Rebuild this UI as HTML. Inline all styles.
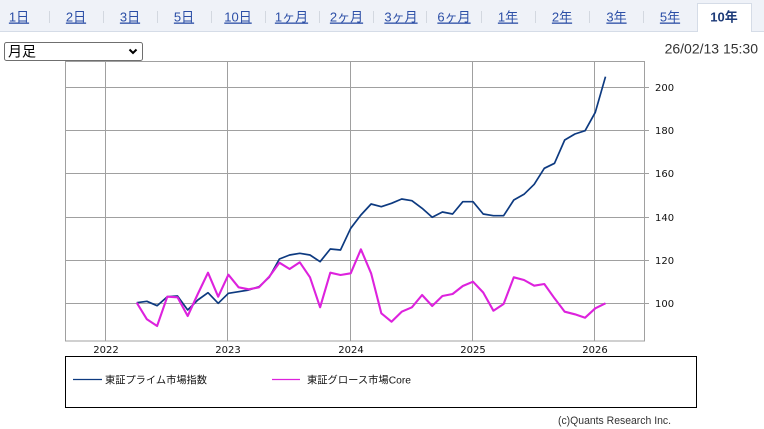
<!DOCTYPE html>
<html><head><meta charset="utf-8"><style>
html,body{margin:0;padding:0;background:#fff;width:764px;height:429px;overflow:hidden}
svg{display:block}
.tab{font-family:"Liberation Sans","Noto Sans CJK JP",sans-serif;font-size:13px;fill:#2b4ea6;text-decoration:underline}
.ax{font-family:"DejaVu Sans",sans-serif;font-size:10px;fill:#111}
.lg{font-family:"Liberation Sans","Noto Sans CJK JP",sans-serif;font-size:10px;fill:#111}
</style></head><body>
<svg width="764" height="429" viewBox="0 0 764 429" xmlns="http://www.w3.org/2000/svg">
<!-- tab bar -->
<rect x="0" y="0" width="764" height="31" fill="#eff2f8"/>
<line x1="0" y1="31.5" x2="764" y2="31.5" stroke="#d5dce7"/>
<g stroke="#d3d8e0" stroke-width="1">
<line x1="49.5" y1="11" x2="49.5" y2="23"/>
<line x1="103.5" y1="11" x2="103.5" y2="23"/>
<line x1="157.5" y1="11" x2="157.5" y2="23"/>
<line x1="211.5" y1="11" x2="211.5" y2="23"/>
<line x1="265.5" y1="11" x2="265.5" y2="23"/>
<line x1="319.5" y1="11" x2="319.5" y2="23"/>
<line x1="373.5" y1="11" x2="373.5" y2="23"/>
<line x1="426.5" y1="11" x2="426.5" y2="23"/>
<line x1="481.5" y1="11" x2="481.5" y2="23"/>
<line x1="535.5" y1="11" x2="535.5" y2="23"/>
<line x1="589.5" y1="11" x2="589.5" y2="23"/>
<line x1="643.5" y1="11" x2="643.5" y2="23"/>
</g>
<path d="M697.5 32 V3.5 H751.5 V32" fill="#fff" stroke="#d5dce7"/>
<rect x="698" y="4" width="53" height="29" fill="#fff"/>
<g text-anchor="middle">
<text class="tab" x="19" y="21.5">1日</text>
<text class="tab" x="76" y="21.5">2日</text>
<text class="tab" x="130" y="21.5">3日</text>
<text class="tab" x="184" y="21.5">5日</text>
<text class="tab" x="238" y="21.5">10日</text>
<text class="tab" x="291.5" y="21.5">1ヶ月</text>
<text class="tab" x="346.5" y="21.5">2ヶ月</text>
<text class="tab" x="401" y="21.5">3ヶ月</text>
<text class="tab" x="454" y="21.5">6ヶ月</text>
<text class="tab" x="508" y="21.5">1年</text>
<text class="tab" x="562" y="21.5">2年</text>
<text class="tab" x="616.5" y="21.5">3年</text>
<text class="tab" x="670" y="21.5">5年</text>
<text x="724" y="21.5" font-family="Liberation Sans,Noto Sans CJK JP,sans-serif" font-size="13" font-weight="bold" fill="#1c3a78">10年</text>
</g>
<!-- select -->
<rect x="4.5" y="42.5" width="138" height="18" rx="2" fill="#fff" stroke="#6f6f6f"/>
<text x="8" y="56.5" font-family="Liberation Sans,Noto Sans CJK JP,sans-serif" font-size="14" fill="#000">月足</text>
<polyline points="129.5,49.5 133,53 136.5,49.5" fill="none" stroke="#000" stroke-width="2"/>
<!-- date -->
<text x="758" y="53.5" text-anchor="end" font-family="Liberation Sans,sans-serif" font-size="14" fill="#333">26/02/13 15:30</text>
<!-- grid -->
<g stroke="#a0a0a0" stroke-width="1" fill="none">
<line x1="65" y1="87.5" x2="649" y2="87.5"/>
<line x1="65" y1="130.5" x2="649" y2="130.5"/>
<line x1="65" y1="173.5" x2="649" y2="173.5"/>
<line x1="65" y1="217.5" x2="649" y2="217.5"/>
<line x1="65" y1="260.5" x2="649" y2="260.5"/>
<line x1="65" y1="303.5" x2="649" y2="303.5"/>
<line x1="105.5" y1="61" x2="105.5" y2="341"/>
<line x1="227.5" y1="61" x2="227.5" y2="341"/>
<line x1="350.5" y1="61" x2="350.5" y2="341"/>
<line x1="472.5" y1="61" x2="472.5" y2="341"/>
<line x1="594.5" y1="61" x2="594.5" y2="341"/>
<rect x="65.5" y="61.5" width="579" height="279.5"/>
</g>
<g class="ax">
<text class="ax" x="655" y="91">200</text>
<text class="ax" x="655" y="134">180</text>
<text class="ax" x="655" y="177">160</text>
<text class="ax" x="655" y="221">140</text>
<text class="ax" x="655" y="264">120</text>
<text class="ax" x="655" y="307">100</text>
</g>
<g text-anchor="middle">
<text class="ax" x="106" y="353">2022</text>
<text class="ax" x="228" y="353">2023</text>
<text class="ax" x="351" y="353">2024</text>
<text class="ax" x="473" y="353">2025</text>
<text class="ax" x="595" y="353">2026</text>
</g>
<!-- series -->
<polyline fill="none" stroke="#0d3a80" stroke-width="1.7" stroke-linejoin="round" points="136.7,302.7 146.9,301.3 157.1,305.7 167.3,296.7 177.5,296 187.7,310 197.8,300 208,292.7 218.2,303.3 228.4,293.3 238.6,291.7 248.8,290 259,286.7 269.2,277.3 279.4,259 289.6,255 299.8,253.3 310,255 320.1,261.7 330.3,249 340.5,250 350.7,228.3 360.9,215 371.1,204 381.3,206.7 391.5,203.3 401.7,199 411.9,200.7 422.1,208.3 432.2,217.3 442.4,212 452.6,214 462.8,201.7 473,201.7 483.2,214 493.4,215.7 503.6,215.7 513.8,200 524,194.3 534.2,184.3 544.3,168.3 554.5,163.3 564.7,140 574.9,134 585.1,130.7 595.3,112.3 605.5,76.7"/>
<polyline fill="none" stroke="#dd22dd" stroke-width="2.1" stroke-linejoin="round" points="136.7,302.7 146.9,319.3 157.1,326 167.3,296.7 177.5,297.3 187.7,316 197.8,294 208,272.7 218.2,296.7 228.4,274.7 238.6,287.3 248.8,289.3 259,287.3 269.2,276.7 279.4,262.7 289.6,269 299.8,262.3 310,277.3 320.1,307.3 330.3,272.7 340.5,275 350.7,273.3 360.9,249.3 371.1,273.3 381.3,313.3 391.5,321.7 401.7,311.7 411.9,307.3 422.1,295 432.2,306 442.4,296 452.6,294 462.8,286 473,281.7 483.2,292.5 493.4,310.7 503.6,304 513.8,277.3 524,280 534.2,285.7 544.3,284 554.5,298.3 564.7,311.7 574.9,314.3 585.1,317.7 595.3,308.3 605.5,303.3"/>
<!-- legend -->
<rect x="65.5" y="356.5" width="631" height="51" fill="none" stroke="#000" stroke-width="1"/>
<line x1="73" y1="379.5" x2="102" y2="379.5" stroke="#0d3a80" stroke-width="1.3"/>
<text class="lg" x="105" y="383.5" textLength="102" lengthAdjust="spacingAndGlyphs">東証プライム市場指数</text>
<line x1="272" y1="379.5" x2="300" y2="379.5" stroke="#dd22dd" stroke-width="1.3"/>
<text class="lg" x="307" y="383.5" textLength="104" lengthAdjust="spacingAndGlyphs">東証グロース市場Core</text>
<!-- copyright -->
<text x="558" y="424" font-family="Liberation Sans,sans-serif" font-size="11" fill="#333" textLength="113" lengthAdjust="spacingAndGlyphs">(c)Quants Research Inc.</text>
</svg>
</body></html>
